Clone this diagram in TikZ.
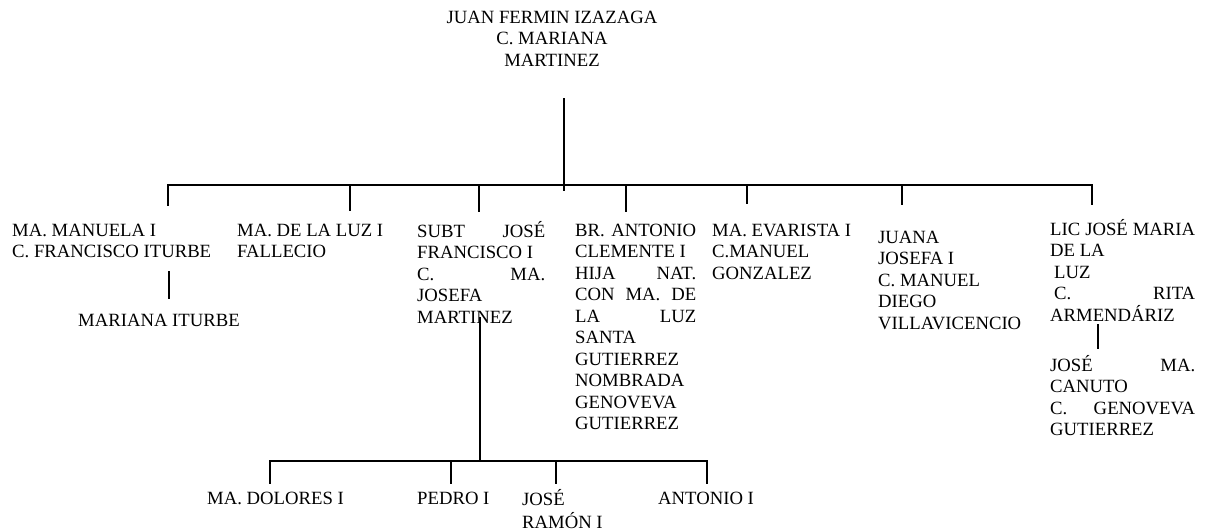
\documentclass[tikz,border=0pt]{standalone}
\usepackage{fontspec}
\setmainfont{Liberation Serif}
\newcommand\fs{\fontsize{18.7}{21.5}\selectfont}
\newcommand\jl[2]{\makebox[#1pt][s]{#2}}
\begin{document}
\begin{tikzpicture}[x=1pt,y=-1pt,
  txt/.style={anchor=north west, inner sep=0pt, align=left, font=\fs},
  ln/.style={line width=1.6pt, line cap=rect}]
\useasboundingbox (0,0) rectangle (1212,531);
% title
\node[txt, anchor=north, align=center] (title) at (552,8)
  {\strut JUAN FERMIN IZAZAGA\\C. MARIANA\\MARTINEZ};
% children
\node[txt] (c1) at (12,221) {\strut MA. MANUELA I\\C. FRANCISCO ITURBE};
\node[txt] (m1) at (78,311) {\strut MARIANA ITURBE};
\node[txt] (c2) at (237,221) {\strut MA. DE LA LUZ I\\FALLECIO};
\node[txt] (c3) at (417,221) {\strut\jl{128}{SUBT JOSÉ}\\FRANCISCO I\\\jl{128}{C. MA.}\\JOSEFA\\MARTINEZ};
\node[txt] (c4) at (575,221) {\strut\jl{121}{BR. ANTONIO}\\CLEMENTE I\\\jl{121}{HIJA NAT.}\\\jl{121}{CON MA. DE}\\\jl{121}{LA LUZ}\\SANTA\\GUTIERREZ\\NOMBRADA\\GENOVEVA\\GUTIERREZ};
\node[txt] (c5) at (712,221) {\strut MA. EVARISTA I\\C.MANUEL\\GONZALEZ};
\node[txt] (c6) at (878,228) {\strut JUANA\\JOSEFA I\\C. MANUEL\\DIEGO\\VILLAVICENCIO};
\node[txt] (c7) at (1050,219) {\strut\jl{145}{LIC JOSÉ MARIA}\\DE LA\\\hspace*{4pt}LUZ\\\hspace*{4pt}\jl{141}{C. RITA}\\ARMENDÁRIZ};
\node[txt] (g1) at (1050,355) {\strut\jl{145}{JOSÉ MA.}\\CANUTO\\\jl{145}{C. GENOVEVA}\\GUTIERREZ};
% grandchildren of c3
\node[txt] (d1) at (207,489) {\strut MA. DOLORES I};
\node[txt] (d2) at (417,489) {\strut PEDRO I};
\node[txt] (d3) at (522,489) {\strut JOSÉ\\RAMÓN I};
\node[txt] (d4) at (658,489) {\strut ANTONIO I};
% connector points
\coordinate (t0) at (564,99);
\coordinate (t1) at (564,190);
\coordinate (bl) at (168,185);
\coordinate (br) at (1092,185);
\coordinate (k1) at (168,185);  \coordinate (e1) at (168,205);
\coordinate (k2) at (350,185);  \coordinate (e2) at (350,210);
\coordinate (k3) at (479,185);  \coordinate (e3) at (479,211);
\coordinate (k4) at (626,185);  \coordinate (e4) at (626,211);
\coordinate (k5) at (747,185);  \coordinate (e5) at (747,203);
\coordinate (k6) at (902,185);  \coordinate (e6) at (902,204);
\coordinate (k7) at (1092,185); \coordinate (e7) at (1092,204);
\coordinate (u1) at (169,272); \coordinate (v1) at (169,298);
\coordinate (u3) at (480,318); \coordinate (v3) at (480,461);
\coordinate (u7) at (1098,325); \coordinate (v7) at (1098,348);
\coordinate (bl2) at (270,461); \coordinate (br2) at (707,461);
\coordinate (p1) at (270,461); \coordinate (q1) at (270,483);
\coordinate (p2) at (451,461); \coordinate (q2) at (451,483);
\coordinate (p3) at (556,461); \coordinate (q3) at (556,483);
\coordinate (p4) at (707,461); \coordinate (q4) at (707,483);
% connectors
\draw[ln] (t0) -- (t1);
\draw[ln] (bl) -- (br);
\foreach \i in {1,...,7} {\draw[ln] (k\i) -- (e\i);}
\draw[ln] (u1) -- (v1);
\draw[ln] (u3) -- (v3);
\draw[ln] (u7) -- (v7);
\draw[ln] (bl2) -- (br2);
\foreach \i in {1,...,4} {\draw[ln] (p\i) -- (q\i);}
\end{tikzpicture}
\end{document}
